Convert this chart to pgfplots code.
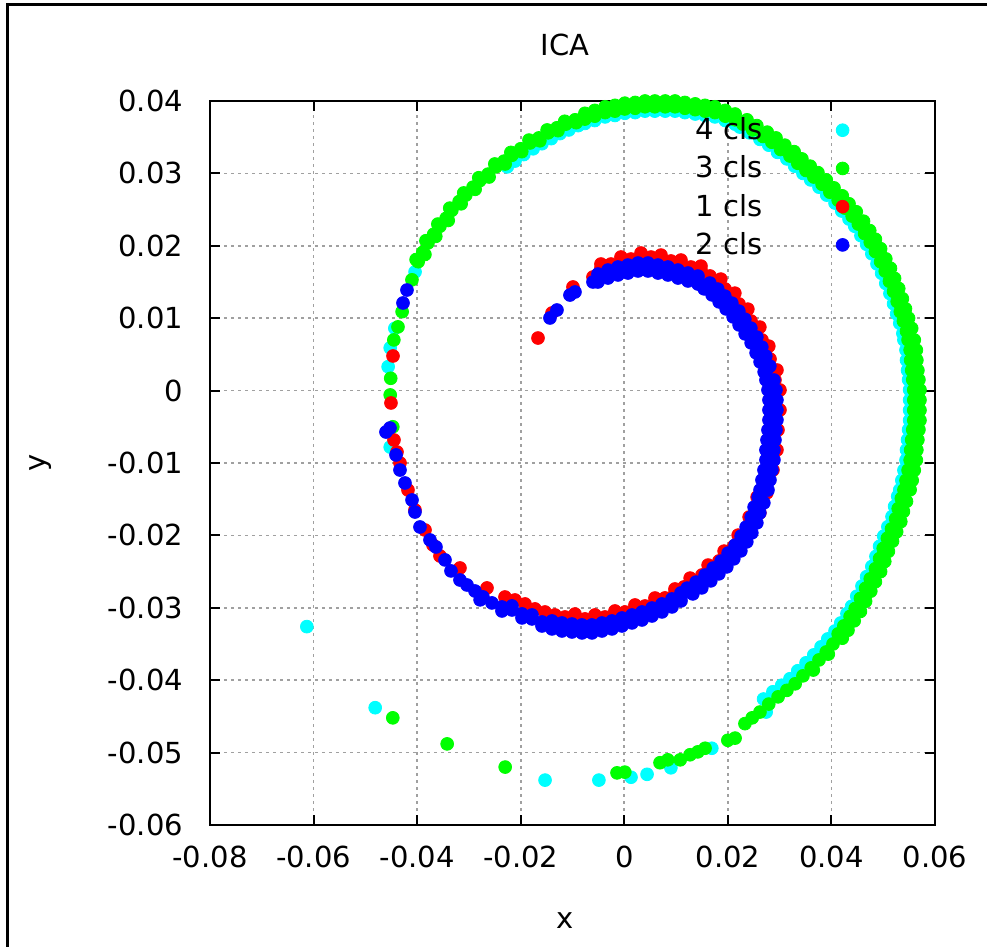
\documentclass[border=0pt]{standalone}
\usepackage{fontspec}
\setmainfont{DejaVu Sans}
\usepackage{pgfplots}
\pgfplotsset{compat=1.18}
\definecolor{ccyan}{RGB}{0,255,255}
\definecolor{cgreen}{RGB}{0,255,0}
\definecolor{cred}{RGB}{255,0,0}
\definecolor{cblue}{RGB}{0,0,255}
\definecolor{gridgray}{RGB}{160,160,160}
\newcommand{\fs}{\fontsize{14.5}{17}\selectfont}
\begin{document}
\begin{tikzpicture}[font=\fs]
\path[use as bounding box] (-105pt,-61pt) rectangle (388.5pt,412.5pt);
\draw[line width=1.5pt] (-101pt,-61pt) -- (-101pt,410pt) -- (388.5pt,410pt);
\begin{axis}[
  at={(0pt,0pt)}, anchor=south west,
  scale only axis, width=362.5pt, height=362pt,
  xmin=-0.08, xmax=0.06, ymin=-0.06, ymax=0.04,
  xtick={-0.08,-0.06,-0.04,-0.02,0,0.02,0.04,0.06},
  xticklabels={-0.08,-0.06,-0.04,-0.02,0,0.02,0.04,0.06},
  ytick={-0.06,-0.05,-0.04,-0.03,-0.02,-0.01,0,0.01,0.02,0.03,0.04},
  yticklabels={-0.06,-0.05,-0.04,-0.03,-0.02,-0.01,0,0.01,0.02,0.03,0.04},
  scaled ticks=false,
  tick label style={font=\fs},
  xticklabel shift=7pt, yticklabel shift=10pt,
  major tick length=5pt, tick align=inside,
  axis line style={line width=1pt},
  every tick/.style={black, line width=1pt},
  grid=major,
  major grid style={gridgray, line width=0.8pt, dash pattern=on 1.5pt off 2pt},
  title={ICA}, title style={at={(axis description cs:0.4897,1.0607)}, anchor=center, font=\fs},
  xlabel={x}, xlabel style={at={(axis description cs:0.4897,-0.1325)}, anchor=center, font=\fs},
  ylabel={y}, ylabel style={at={(axis description cs:-0.2332,0.5)}, anchor=center, font=\fs},
  clip=false,
  only marks,
  mark size=3.2pt,
  legend style={at={(axis description cs:0.669,0.983)}, anchor=north west, draw=none, fill=none,
    inner sep=0pt, row sep=2.6pt, column sep=37pt, font=\fs,
    nodes={inner xsep=0pt}},
  legend cell align=left, legend plot pos=right,
  legend image code/.code={\draw[#1] plot coordinates {(0pt,0pt)};},
]
% 4 cls
\addplot[mark=*, color=ccyan, mark options={fill=ccyan, draw=ccyan}] coordinates {
(-0.0404,0.0164)(-0.0443,0.0086)(-0.0452,0.0059)(-0.0456,0.0033)(-0.0452,-0.0078)
(-0.0226,0.0309)(-0.0211,0.0317)(-0.0194,0.0326)(-0.0176,0.0334)(-0.0159,0.0341)(-0.0141,0.0348)(-0.0124,0.0355)(-0.0107,0.0360)(-0.0089,0.0366)
(-0.0076,0.0369)(-0.0057,0.0373)(-0.0037,0.0378)(-0.0018,0.0380)(0.0001,0.0383)(0.0021,0.0384)(0.0040,0.0386)(0.0059,0.0386)(0.0079,0.0386)(0.0098,0.0386)
(0.0117,0.0384)(0.0137,0.0382)(0.0156,0.0380)(0.0175,0.0378)(0.0195,0.0373)(0.0214,0.0368)(0.0223,0.0364)(0.0242,0.0356)(0.0262,0.0347)(0.0279,0.0339)
(0.0296,0.0329)(0.0314,0.0320)(0.0329,0.0310)(0.0345,0.0300)(0.0360,0.0291)(0.0376,0.0281)(0.0391,0.0270)(0.0407,0.0259)(0.0420,0.0248)(0.0434,0.0237)
(0.0445,0.0227)(0.0457,0.0214)(0.0468,0.0202)(0.0478,0.0189)(0.0488,0.0175)(0.0497,0.0162)(0.0505,0.0148)(0.0513,0.0134)(0.0520,0.0120)(0.0526,0.0106)
(0.0532,0.0093)(0.0538,0.0079)(0.0540,0.0070)(0.0544,0.0056)(0.0545,0.0042)(0.0547,0.0028)(0.0549,0.0015)(0.0551,0.0001)(0.0551,-0.0013)(0.0551,-0.0027)
(0.0551,-0.0041)(0.0549,-0.0054)(0.0547,-0.0068)(0.0545,-0.0082)(0.0544,-0.0096)(0.0540,-0.0110)(0.0536,-0.0124)(0.0532,-0.0137)(0.0528,-0.0146)(0.0522,-0.0160)
(0.0517,-0.0174)(0.0509,-0.0188)(0.0501,-0.0201)(0.0493,-0.0215)(0.0486,-0.0229)(0.0478,-0.0243)(0.0468,-0.0257)(0.0459,-0.0270)(0.0449,-0.0284)(0.0439,-0.0298)
(0.0430,-0.0308)(0.0418,-0.0321)(0.0407,-0.0332)(0.0393,-0.0343)(0.0380,-0.0354)(0.0366,-0.0365)(0.0351,-0.0376)(0.0335,-0.0387)(0.0320,-0.0398)(0.0304,-0.0407)
(0.0287,-0.0416)(0.0269,-0.0426)
(0.0274,-0.0444)(0.0169,-0.0494)(0.0090,-0.0521)(0.0044,-0.0530)(0.0013,-0.0534)(-0.0049,-0.0538)(-0.0153,-0.0538)(-0.0481,-0.0438)(-0.0613,-0.0326)
};
\addlegendentry{4 cls}
% 3 cls
\addplot[mark=*, color=cgreen, mark options={fill=cgreen, draw=cgreen}] coordinates {
(-0.0429,0.0109)(-0.0437,0.0088)(-0.0445,0.0070)(-0.0451,0.0017)(-0.0452,-0.0006)(-0.0447,-0.0050)(-0.0410,0.0153)
(-0.0398,0.0178)(-0.0402,0.0181)(-0.0389,0.0191)(-0.0385,0.0188)(-0.0379,0.0204)(-0.0383,0.0207)(-0.0368,0.0216)(-0.0364,0.0213)
(-0.0356,0.0227)(-0.0360,0.0230)(-0.0344,0.0238)(-0.0340,0.0235)(-0.0333,0.0249)(-0.0337,0.0252)(-0.0319,0.0261)(-0.0315,0.0258)
(-0.0306,0.0270)(-0.0310,0.0273)(-0.0292,0.0281)(-0.0288,0.0278)(-0.0279,0.0290)(-0.0281,0.0294)(-0.0263,0.0299)(-0.0261,0.0295)
(-0.0248,0.0309)(-0.0250,0.0313)(-0.0232,0.0317)(-0.0230,0.0313)(-0.0217,0.0325)(-0.0219,0.0329)(-0.0200,0.0334)(-0.0198,0.0330)
(-0.0182,0.0342)(-0.0184,0.0346)(-0.0165,0.0349)(-0.0163,0.0345)(-0.0147,0.0356)(-0.0149,0.0360)(-0.0130,0.0363)(-0.0128,0.0359)
(-0.0113,0.0368)(-0.0115,0.0372)(-0.0095,0.0374)(-0.0093,0.0370)(-0.0076,0.0379)(-0.0076,0.0383)(-0.0057,0.0383)(-0.0057,0.0379)
(-0.0037,0.0388)(-0.0037,0.0392)(-0.0018,0.0390)(-0.0018,0.0386)(0.0001,0.0393)(0.0001,0.0397)(0.0021,0.0394)(0.0021,0.0390)
(0.0040,0.0396)(0.0040,0.0400)(0.0059,0.0396)(0.0059,0.0392)(0.0079,0.0396)(0.0079,0.0400)(0.0098,0.0396)(0.0098,0.0392)
(0.0117,0.0394)(0.0117,0.0398)(0.0137,0.0392)(0.0137,0.0388)(0.0156,0.0390)(0.0156,0.0394)(0.0175,0.0388)(0.0175,0.0384)
(0.0195,0.0383)(0.0195,0.0387)(0.0214,0.0378)(0.0214,0.0374)(0.0233,0.0371)(0.0237,0.0374)(0.0252,0.0363)(0.0248,0.0360)
(0.0272,0.0354)(0.0276,0.0357)(0.0289,0.0346)(0.0285,0.0343)(0.0306,0.0336)(0.0310,0.0339)(0.0324,0.0327)(0.0320,0.0324)
(0.0339,0.0317)(0.0343,0.0320)(0.0355,0.0307)(0.0351,0.0304)(0.0370,0.0298)(0.0374,0.0301)(0.0386,0.0288)(0.0382,0.0285)
(0.0401,0.0277)(0.0405,0.0280)(0.0417,0.0266)(0.0413,0.0263)(0.0430,0.0255)(0.0434,0.0258)(0.0444,0.0244)(0.0440,0.0241)
(0.0457,0.0232)(0.0462,0.0234)(0.0469,0.0219)(0.0464,0.0217)(0.0480,0.0207)(0.0485,0.0209)(0.0490,0.0194)(0.0485,0.0192)
(0.0500,0.0180)(0.0505,0.0182)(0.0509,0.0167)(0.0504,0.0165)(0.0517,0.0153)(0.0522,0.0155)(0.0525,0.0139)(0.0520,0.0137)
(0.0532,0.0125)(0.0537,0.0127)(0.0538,0.0111)(0.0533,0.0109)(0.0544,0.0098)(0.0549,0.0100)(0.0550,0.0084)(0.0545,0.0082)
(0.0554,0.0070)(0.0560,0.0070)(0.0558,0.0056)(0.0552,0.0056)(0.0559,0.0042)(0.0565,0.0042)(0.0561,0.0028)(0.0555,0.0028)
(0.0563,0.0015)(0.0569,0.0015)(0.0565,0.0001)(0.0559,0.0001)(0.0565,-0.0013)(0.0571,-0.0013)(0.0565,-0.0027)(0.0559,-0.0027)
(0.0565,-0.0041)(0.0571,-0.0041)(0.0563,-0.0054)(0.0557,-0.0054)(0.0561,-0.0068)(0.0567,-0.0068)(0.0559,-0.0082)(0.0553,-0.0082)
(0.0558,-0.0096)(0.0564,-0.0096)(0.0554,-0.0110)(0.0548,-0.0110)(0.0550,-0.0124)(0.0556,-0.0124)(0.0546,-0.0137)(0.0540,-0.0137)
(0.0540,-0.0151)(0.0545,-0.0153)(0.0534,-0.0165)(0.0529,-0.0163)(0.0529,-0.0179)(0.0534,-0.0181)(0.0521,-0.0193)(0.0516,-0.0191)
(0.0513,-0.0206)(0.0518,-0.0208)(0.0505,-0.0220)(0.0500,-0.0218)(0.0498,-0.0234)(0.0503,-0.0236)(0.0490,-0.0248)(0.0485,-0.0246)
(0.0480,-0.0262)(0.0485,-0.0264)(0.0471,-0.0275)(0.0466,-0.0273)(0.0461,-0.0289)(0.0466,-0.0291)(0.0451,-0.0303)(0.0446,-0.0301)
(0.0440,-0.0315)(0.0444,-0.0318)(0.0428,-0.0328)(0.0424,-0.0325)(0.0417,-0.0339)(0.0421,-0.0342)(0.0403,-0.0350)(0.0390,-0.0361)
(0.0394,-0.0364)(0.0376,-0.0372)(0.0361,-0.0383)(0.0365,-0.0386)(0.0345,-0.0394)(0.0330,-0.0405)(0.0314,-0.0414)(0.0297,-0.0423)(0.0279,-0.0433)
(0.0262,-0.0444)(0.0247,-0.0452)(0.0233,-0.0460)(0.0214,-0.0480)(0.0200,-0.0483)(0.0156,-0.0494)(0.0142,-0.0499)(0.0127,-0.0503)
(0.0108,-0.0510)(0.0084,-0.0510)(0.0069,-0.0514)(0.0001,-0.0527)(-0.0014,-0.0528)(-0.0230,-0.0520)(-0.0342,-0.0488)(-0.0447,-0.0452)
(-0.0076,0.0375)(-0.0057,0.0387)(-0.0037,0.0384)(-0.0018,0.0394)(0.0001,0.0389)(0.0021,0.0398)(0.0040,0.0392)(0.0059,0.0400)
(0.0079,0.0392)(0.0098,0.0400)(0.0117,0.0390)(0.0137,0.0396)(0.0156,0.0386)(0.0175,0.0392)(0.0195,0.0379)(0.0214,0.0382)
(0.0229,0.0368)(0.0256,0.0366)(0.0268,0.0351)(0.0293,0.0349)(0.0302,0.0333)(0.0328,0.0330)(0.0335,0.0314)(0.0359,0.0310)
(0.0366,0.0295)(0.0390,0.0291)(0.0397,0.0274)(0.0421,0.0269)(0.0426,0.0252)(0.0448,0.0247)(0.0452,0.0230)(0.0474,0.0221)
(0.0475,0.0205)(0.0495,0.0196)(0.0495,0.0178)(0.0514,0.0169)(0.0512,0.0151)(0.0530,0.0141)(0.0527,0.0123)(0.0543,0.0113)
(0.0539,0.0096)(0.0555,0.0086)(0.0548,0.0070)(0.0564,0.0056)(0.0553,0.0042)(0.0567,0.0028)(0.0557,0.0015)(0.0571,0.0001)
(0.0559,-0.0013)(0.0571,-0.0027)(0.0559,-0.0041)(0.0569,-0.0054)(0.0555,-0.0068)(0.0565,-0.0082)(0.0552,-0.0096)(0.0560,-0.0110)
(0.0544,-0.0124)(0.0552,-0.0137)(0.0535,-0.0149)(0.0539,-0.0167)(0.0524,-0.0177)(0.0526,-0.0195)(0.0508,-0.0204)(0.0510,-0.0222)
(0.0493,-0.0232)(0.0495,-0.0250)(0.0475,-0.0260)(0.0476,-0.0277)(0.0456,-0.0287)(0.0456,-0.0305)(0.0436,-0.0312)(0.0432,-0.0331)(0.0413,-0.0336)
};
\addlegendentry{3 cls}
% 1 cls
\addplot[mark=*, color=cred, mark options={fill=cred, draw=cred}] coordinates {
(-0.00450,0.01693)(-0.00450,0.01748)(-0.00257,0.01748)(-0.00257,0.01693)(-0.00064,0.01790)(-0.00064,0.01845)
(0.00129,0.01817)(0.00129,0.01762)(0.00323,0.01845)(0.00323,0.01900)(0.00516,0.01845)(0.00516,0.01790)
(0.00709,0.01817)(0.00709,0.01872)(0.00902,0.01790)(0.00902,0.01735)(0.01095,0.01748)(0.01095,0.01803)
(0.01288,0.01707)(0.01288,0.01652)(0.01481,0.01665)(0.01481,0.01720)(0.01655,0.01583)(0.01600,0.01543)
(0.01809,0.01500)(0.01864,0.01540)(0.01945,0.01403)(0.01890,0.01363)(0.02080,0.01306)(0.02135,0.01346)
(0.02215,0.01196)(0.02160,0.01156)(0.02331,0.01085)(0.02386,0.01125)(0.02447,0.00961)(0.02392,0.00921)
(0.02563,0.00837)(0.02618,0.00877)(0.02659,0.00699)(0.02604,0.00659)(0.02736,0.00574)(0.02791,0.00614)
(0.02814,0.00436)(0.02759,0.00396)(0.02871,0.00284)(0.02948,0.00284)(0.02910,0.00146)(0.02833,0.00146)
(0.02929,0.00008)(0.03006,0.00008)(0.02929,-0.00130)(0.02852,-0.00130)(0.02929,-0.00268)(0.03006,-0.00268)
(0.02910,-0.00406)(0.02833,-0.00406)(0.02891,-0.00544)(0.02968,-0.00544)(0.02871,-0.00682)(0.02794,-0.00682)
(0.02871,-0.00820)(0.02948,-0.00820)(0.02833,-0.00959)(0.02756,-0.00959)(0.02794,-0.01097)(0.02871,-0.01097)
(0.02756,-0.01235)(0.02679,-0.01235)(0.02698,-0.01373)(0.02753,-0.01413)(0.02620,-0.01511)(0.02565,-0.01471)
(0.02563,-0.01649)(0.02618,-0.01689)(0.02466,-0.01787)(0.02411,-0.01747)(0.02369,-0.01911)(0.02424,-0.01951)
(0.02254,-0.02036)(0.02199,-0.01996)(0.02118,-0.02146)(0.02173,-0.02186)(0.01983,-0.02257)(0.01928,-0.02217)
(0.01829,-0.02353)(0.01884,-0.02393)(0.01674,-0.02450)(0.01619,-0.02410)(0.01500,-0.02547)(0.01555,-0.02587)
(0.01327,-0.02630)(0.01272,-0.02590)(0.01153,-0.02712)(0.01153,-0.02767)(0.00979,-0.02795)(0.00979,-0.02740)
(0.00786,-0.02864)(0.00786,-0.02919)(0.00593,-0.02920)(0.00593,-0.02865)(0.00400,-0.02975)(0.00400,-0.03030)
(0.00207,-0.03016)(0.00207,-0.02961)(0.00014,-0.03058)(0.00014,-0.03113)(-0.00180,-0.03099)(-0.00180,-0.03044)
(-0.00373,-0.03127)(-0.00373,-0.03182)(-0.00566,-0.03154)(-0.00566,-0.03099)(-0.00759,-0.03154)(-0.00759,-0.03209)
(-0.00952,-0.03141)(-0.00952,-0.03086)(-0.01145,-0.03127)(-0.01338,-0.03099)(-0.01531,-0.03058)(-0.01724,-0.03016)
(-0.01917,-0.02947)(-0.02111,-0.02892)(-0.02304,-0.02851)
(-0.02651,-0.02726)(-0.03173,-0.02450)(-0.03559,-0.02284)(-0.03694,-0.02132)(-0.03848,-0.01925)(-0.04042,-0.01649)
(-0.04177,-0.01373)(-0.04331,-0.01000)(-0.04389,-0.00848)(-0.04447,-0.00682)(-0.04505,-0.00171)(-0.04466,0.00478)
(-0.01666,0.00726)(-0.01396,0.01072)(-0.00991,0.01431)(-0.00604,0.01569)
};
\addlegendentry{1 cls}
% 2 cls
\addplot[mark=*, color=cblue, mark options={fill=cblue, draw=cblue}] coordinates {
(-0.00508,0.01555)(-0.00508,0.01610)(-0.00315,0.01610)(-0.00315,0.01555)(-0.00122,0.01652)(-0.00122,0.01707)
(0.00071,0.01679)(0.00071,0.01624)(0.00265,0.01707)(0.00265,0.01762)(0.00458,0.01707)(0.00458,0.01652)
(0.00651,0.01679)(0.00651,0.01734)(0.00844,0.01652)(0.00844,0.01597)(0.01037,0.01610)(0.01037,0.01665)
(0.01230,0.01569)(0.01230,0.01514)(0.01423,0.01527)(0.01423,0.01582)(0.01597,0.01445)(0.01542,0.01405)
(0.01751,0.01362)(0.01806,0.01402)(0.01887,0.01265)(0.01832,0.01225)(0.02022,0.01168)(0.02077,0.01208)
(0.02157,0.01058)(0.02102,0.01018)(0.02273,0.00947)(0.02328,0.00987)(0.02389,0.00823)(0.02334,0.00783)
(0.02505,0.00699)(0.02560,0.00739)(0.02601,0.00561)(0.02546,0.00521)(0.02678,0.00436)(0.02733,0.00476)
(0.02756,0.00298)(0.02701,0.00258)(0.02813,0.00146)(0.02890,0.00146)(0.02852,0.00008)(0.02775,0.00008)
(0.02871,-0.00130)(0.02948,-0.00130)(0.02871,-0.00268)(0.02794,-0.00268)(0.02871,-0.00406)(0.02948,-0.00406)
(0.02852,-0.00544)(0.02775,-0.00544)(0.02833,-0.00682)(0.02910,-0.00682)(0.02813,-0.00820)(0.02736,-0.00820)
(0.02813,-0.00958)(0.02890,-0.00958)(0.02775,-0.01097)(0.02698,-0.01097)(0.02736,-0.01235)(0.02813,-0.01235)
(0.02698,-0.01373)(0.02621,-0.01373)(0.02640,-0.01511)(0.02695,-0.01551)(0.02562,-0.01649)(0.02507,-0.01609)
(0.02505,-0.01787)(0.02560,-0.01827)(0.02408,-0.01925)(0.02353,-0.01885)(0.02311,-0.02049)(0.02366,-0.02089)
(0.02196,-0.02174)(0.02141,-0.02134)(0.02060,-0.02284)(0.02115,-0.02324)(0.01925,-0.02395)(0.01870,-0.02355)
(0.01771,-0.02491)(0.01826,-0.02531)(0.01616,-0.02588)(0.01561,-0.02548)(0.01442,-0.02685)(0.01497,-0.02725)
(0.01269,-0.02768)(0.01214,-0.02728)(0.01095,-0.02850)(0.01095,-0.02905)(0.00921,-0.02933)(0.00921,-0.02878)
(0.00728,-0.03002)(0.00728,-0.03057)(0.00535,-0.03058)(0.00535,-0.03003)(0.00342,-0.03113)(0.00342,-0.03168)
(0.00149,-0.03154)(0.00149,-0.03099)(-0.00044,-0.03196)(-0.00044,-0.03251)(-0.00238,-0.03237)(-0.00238,-0.03182)
(-0.00431,-0.03265)(-0.00431,-0.03320)(-0.00624,-0.03292)(-0.00624,-0.03237)(-0.00817,-0.03292)(-0.00817,-0.03347)
(-0.01010,-0.03279)(-0.01010,-0.03224)(-0.01203,-0.03265)(-0.01203,-0.03320)(-0.01396,-0.03237)(-0.01396,-0.03182)
(-0.01589,-0.03196)(-0.01589,-0.03251)(-0.01782,-0.03154)(-0.01782,-0.03099)(-0.01975,-0.03085)(-0.01975,-0.03140)
(-0.02169,-0.03030)(-0.02169,-0.02975)(-0.02362,-0.02989)(-0.02362,-0.03044)(-0.02555,-0.02933)(-0.02729,-0.02850)
(-0.02784,-0.02890)(-0.02883,-0.02768)(-0.03037,-0.02685)(-0.03173,-0.02616)
(-0.03346,-0.02491)(-0.03462,-0.02339)(-0.03636,-0.02160)(-0.03752,-0.02063)(-0.03945,-0.01884)(-0.04042,-0.01677)
(-0.04099,-0.01511)(-0.04235,-0.01276)(-0.04331,-0.01097)(-0.04408,-0.00889)(-0.04602,-0.00572)(-0.04524,-0.00517)
(-0.04273,0.01210)(-0.04196,0.01389)(-0.01435,0.01003)(-0.01300,0.01113)(-0.01049,0.01320)(-0.00952,0.01362)(-0.00604,0.01500)
(-0.00508,0.01500)(-0.00315,0.01665)(-0.00122,0.01597)(0.00071,0.01734)(0.00265,0.01652)(0.00458,0.01762)
(0.00651,0.01624)(0.00844,0.01707)(0.01037,0.01555)(0.01230,0.01624)(0.01423,0.01472)(0.01652,0.01485)
(0.01696,0.01322)(0.01942,0.01305)(0.01967,0.01128)(0.02212,0.01098)(0.02218,0.00907)(0.02444,0.00863)
(0.02450,0.00659)(0.02656,0.00601)(0.02623,0.00396)(0.02811,0.00338)(0.02736,0.00146)(0.02929,0.00008)
(0.02794,-0.00130)(0.02948,-0.00268)(0.02794,-0.00406)(0.02929,-0.00544)(0.02756,-0.00682)(0.02890,-0.00820)
(0.02736,-0.00958)(0.02852,-0.01097)(0.02659,-0.01235)(0.02775,-0.01373)(0.02585,-0.01471)(0.02617,-0.01689)
(0.02450,-0.01747)(0.02463,-0.01965)(0.02256,-0.02009)(0.02251,-0.02214)(0.02005,-0.02244)(0.01980,-0.02435)
(0.01716,-0.02451)(0.01671,-0.02628)(0.01387,-0.02645)(0.01324,-0.02808)(0.01095,-0.02795)(0.00921,-0.02988)
(0.00728,-0.02947)(0.00535,-0.03113)(0.00342,-0.03058)(0.00149,-0.03209)(-0.00044,-0.03141)(-0.00238,-0.03292)
(-0.00431,-0.03210)(-0.00624,-0.03347)(-0.00817,-0.03237)(-0.01010,-0.03334)(-0.01203,-0.03210)(-0.01396,-0.03292)
};
\addlegendentry{2 cls}
\end{axis}
\end{tikzpicture}
\end{document}
